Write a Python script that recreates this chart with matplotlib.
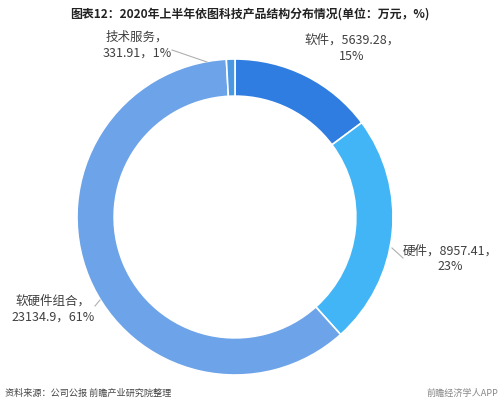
import matplotlib
matplotlib.use("Agg")
import matplotlib.pyplot as plt

plt.rcParams['font.family'] = ['Noto Sans CJK SC', 'DejaVu Sans']

categories = ["软件", "硬件", "软硬件组合", "技术服务"]
values = [5639.28, 8957.41, 23134.9, 331.91]
value_labels = ["5639.28", "8957.41", "23134.9", "331.91"]
percents = ["15%", "23%", "61%", "1%"]
colors = ["#2f7de1", "#41b5f5", "#6da3e8", "#4b98e2"]

W, H = 500, 409
fig = plt.figure(figsize=(W / 100, H / 100), dpi=100)
ax = fig.add_axes([0, 0, 1, 1])

cx, cy, R = 235, H - 217, 158
ax.pie(values, colors=colors, startangle=90, counterclock=False,
       center=(cx, cy), radius=R, frame=True,
       wedgeprops=dict(width=R * 0.235, edgecolor="white", linewidth=1.2))
ax.set_xlim(0, W)
ax.set_ylim(0, H)
ax.set_aspect("equal")
ax.axis("off")

tc = "#404040"
fs = 9.0
# labels
ax.text(352, H - 48, f"{categories[0]}，{value_labels[0]}，\n{percents[0]}", ha="center", va="center",
        fontsize=fs, color=tc, linespacing=1.3)
ax.text(450, H - 259, f"{categories[1]}，{value_labels[1]}，\n{percents[1]}", ha="center", va="center",
        fontsize=fs, color=tc, linespacing=1.3)
ax.text(53, H - 309, f"{categories[2]}，\n{value_labels[2]}，{percents[2]}", ha="center", va="center",
        fontsize=fs, color=tc, linespacing=1.3)
ax.text(137, H - 45, f"{categories[3]}，\n{value_labels[3]}，{percents[3]}", ha="center", va="center",
        fontsize=fs, color=tc, linespacing=1.3)

# leader lines
ax.plot([172, 207], [H - 50, H - 62], color="#b0b0b0", lw=0.8)
ax.plot([392, 403], [H - 248, H - 258], color="#b0b0b0", lw=0.8)
ax.plot([95, 100], [H - 306, H - 300], color="#b0b0b0", lw=0.8)

# title
ax.text(250, H - 14, "图表12：2020年上半年依图科技产品结构分布情况(单位：万元，%)",
        ha="center", va="center", fontsize=8.6, fontweight="bold", color="#222222")

# footer
ax.text(5, H - 393, "资料来源：公司公报 前瞻产业研究院整理", ha="left", va="center",
        fontsize=6.6, color="#444444")
ax.text(498, H - 393, "前瞻经济学人APP", ha="right", va="center",
        fontsize=6.6, color="#888888")

fig.savefig("out.png", dpi=100)
